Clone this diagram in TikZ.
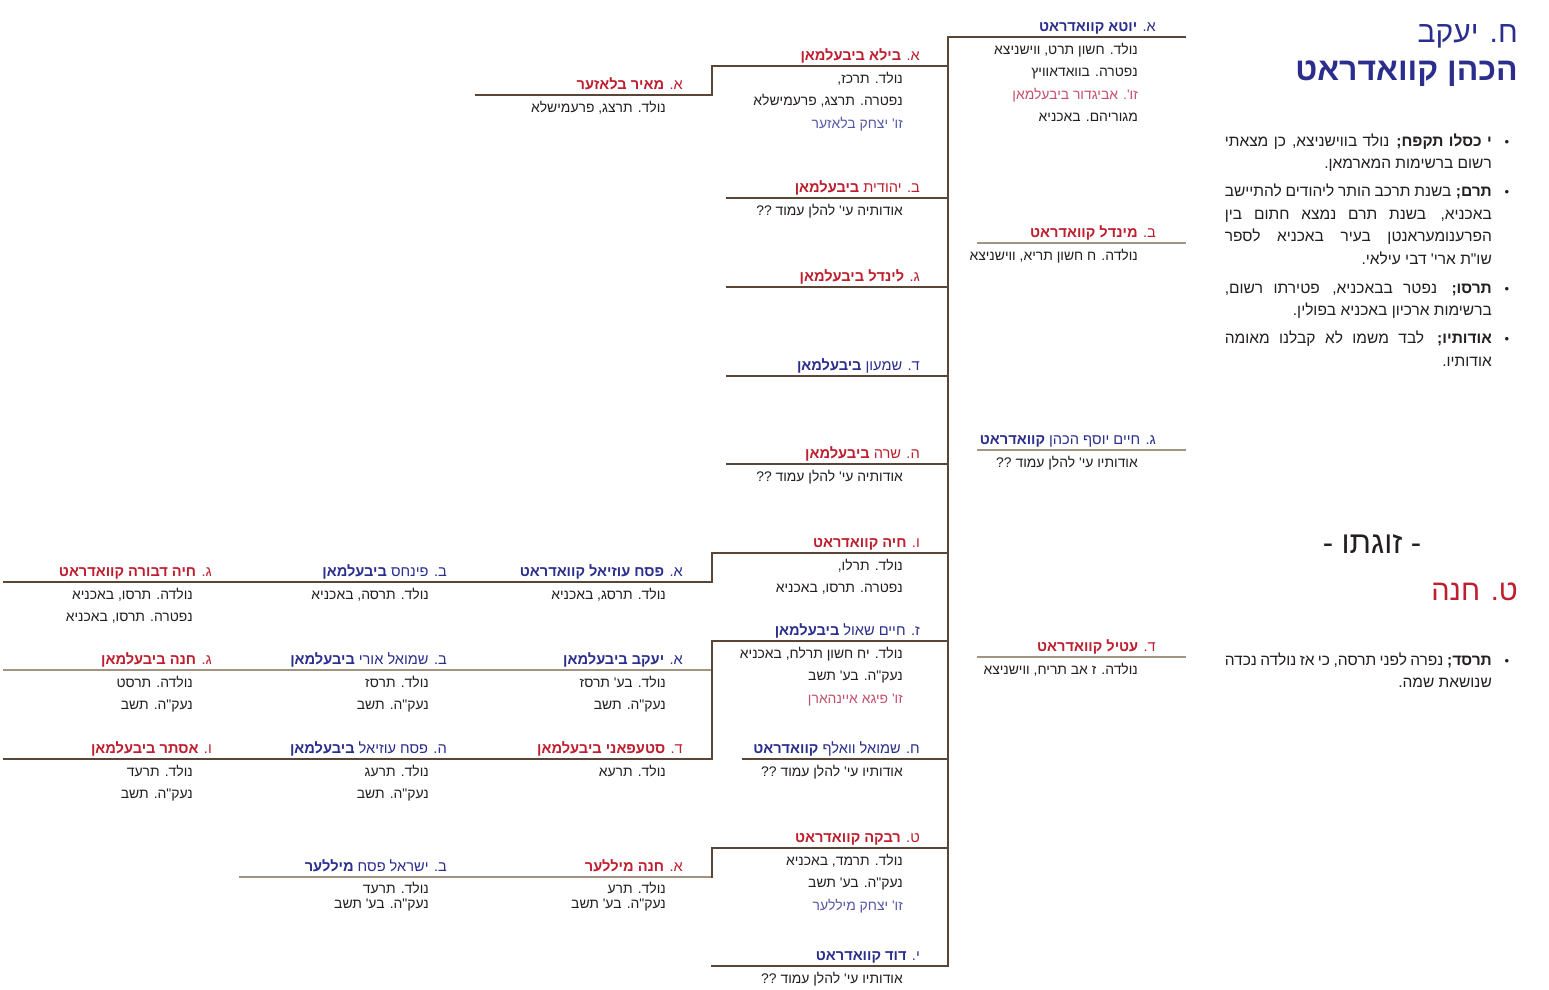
\documentclass[tikz,border=0pt]{standalone}
\usepackage{fontspec}
\TeXXeTstate=1
\newfontfamily\heb[Script=Hebrew]{Liberation Sans}
\definecolor{nblue}{HTML}{2B2E8C}
\definecolor{nred}{HTML}{BE1E2D}
\definecolor{spred}{HTML}{C4506A}
\definecolor{spblue}{HTML}{5659A6}
\definecolor{lnd}{HTML}{5A4636}
\definecolor{lnl}{HTML}{A39482}
\definecolor{txt}{HTML}{231F20}
\newcommand\jl[1]{\hbox to 267pt{\spaceskip=0.15em plus 1fil\relax#1}}
\newcommand\rl[1]{\hbox to 267pt{\hfil#1}}
\newcommand\hl[5][ln]{\coordinate (#2a) at (#3,#5); \coordinate (#2b) at (#4,#5); \draw[#1] (#2a) -- (#2b);}
\begin{document}
\begin{tikzpicture}[x=1pt,y=-1pt,
  nm/.style={anchor=base east,inner sep=0pt,font=\heb\fontsize{14.6}{17}\selectfont},
  blu/.style={nm,text=nblue},
  rd/.style={nm,text=nred},
  dt/.style={anchor=base east,inner sep=0pt,text=txt,font=\heb\fontsize{13.9}{16}\selectfont},
  dsr/.style={dt,text=spred},
  dsb/.style={dt,text=spblue},
  bt/.style={anchor=base east,inner sep=0pt,text=txt,font=\heb\fontsize{15.5}{19}\selectfont},
  bul/.style={anchor=base,inner sep=0pt,text=txt,font=\heb\fontsize{13}{16}\selectfont},
  ln/.style={draw=lnd,line width=1.1pt,line cap=rect},
  lnl/.style={draw=lnl,line width=1.1pt,line cap=rect}]
\useasboundingbox (0,0) rectangle (1549,989);
\fill[white] (0,0) rectangle (1549,989);

% ---------- lines ----------
\coordinate (spT) at (948,37);
\coordinate (spB) at (948,966);
\draw[ln] (spT) -- (spB);
\hl{h37}{948}{1185}{37}
\hl[lnl]{h243}{978}{1185}{243}
\hl[lnl]{h450}{978}{1185}{450}
\hl[lnl]{h657}{978}{1185}{657}
\hl{h66}{712}{948}{66}
\hl{h95}{476}{712}{95}
\draw[ln] (h66a) -- (h95b);
\hl{h198}{727}{948}{198}
\hl{h287}{727}{948}{287}
\hl{h376}{727}{948}{376}
\hl{h464}{727}{948}{464}
\hl{h553}{712}{948}{553}
\hl{h582}{4}{712}{582}
\draw[ln] (h553a) -- (h582b);
\hl{h641}{712}{948}{641}
\hl[lnl]{h670}{4}{712}{670}
\hl{h759l}{4}{712}{759}
\draw[ln] (h641a) -- (h759lb);
\hl{h759}{743}{948}{759}
\hl{h848}{712}{948}{848}
\hl[lnl]{h877}{240}{712}{877}
\draw[ln] (h848a) -- (h877b);
\hl{h966}{712}{948}{966}

% ---------- right column ----------
\node[blu] (r1) at (1156,31) {\beginR א. {\bfseries יוטא קוואדראט}\endR};
\node[dt] (r1a) at (1138,54) {\beginR נולד. חשון תרט, ווישניצא\endR};
\node[dt] (r1b) at (1138,76.5) {\beginR נפטרה. בוואדאוויץ\endR};
\node[dsr] (r1c) at (1138,99) {\beginR זו'. אביגדור ביבעלמאן\endR};
\node[dt] (r1d) at (1138,121.5) {\beginR מגוריהם. באכניא\endR};
\node[rd] (r2) at (1156,237) {\beginR ב. {\bfseries מינדל קוואדראט}\endR};
\node[dt] (r2a) at (1138,260) {\beginR נולדה. ח חשון תריא, ווישניצא\endR};
\node[blu] (r3) at (1156,444) {\beginR ג. חיים יוסף הכהן {\bfseries קוואדראט}\endR};
\node[dt] (r3a) at (1138,467) {\beginR אודותיו עי' להלן עמוד ??\endR};
\node[rd] (r4) at (1156,651) {\beginR ד. {\bfseries עטיל קוואדראט}\endR};
\node[dt] (r4a) at (1138,674) {\beginR נולדה. ז אב תריח, ווישניצא\endR};

% ---------- middle column ----------
\node[rd] (m1) at (920,60) {\beginR א. {\bfseries בילא ביבעלמאן}\endR};
\node[dt] (m1a) at (903,83) {\beginR נולד. תרכז,\endR};
\node[dt] (m1b) at (903,105.5) {\beginR נפטרה. תרצג, פרעמישלא\endR};
\node[dsb] (m1c) at (903,128) {\beginR זו' יצחק בלאזער\endR};
\node[rd] (m2) at (920,192) {\beginR ב. יהודית {\bfseries ביבעלמאן}\endR};
\node[dt] (m2a) at (903,215) {\beginR אודותיה עי' להלן עמוד ??\endR};
\node[rd] (m3) at (920,281) {\beginR ג. {\bfseries לינדל ביבעלמאן}\endR};
\node[blu] (m4) at (920,370) {\beginR ד. שמעון {\bfseries ביבעלמאן}\endR};
\node[rd] (m5) at (920,458) {\beginR ה. שרה {\bfseries ביבעלמאן}\endR};
\node[dt] (m5a) at (903,481) {\beginR אודותיה עי' להלן עמוד ??\endR};
\node[rd] (m6) at (920,547) {\beginR ו. {\bfseries חיה קוואדראט}\endR};
\node[dt] (m6a) at (903,570) {\beginR נולד. תרלו,\endR};
\node[dt] (m6b) at (903,592.5) {\beginR נפטרה. תרסו, באכניא\endR};
\node[blu] (m7) at (920,635) {\beginR ז. חיים שאול {\bfseries ביבעלמאן}\endR};
\node[dt] (m7a) at (903,658) {\beginR נולד. יח חשון תרלח, באכניא\endR};
\node[dt] (m7b) at (903,680.5) {\beginR נעק"ה. בע' תשב\endR};
\node[dsr] (m7c) at (903,703) {\beginR זו' פיגא איינהארן\endR};
\node[blu] (m8) at (920,753) {\beginR ח. שמואל וואלף {\bfseries קוואדראט}\endR};
\node[dt] (m8a) at (903,776) {\beginR אודותיו עי' להלן עמוד ??\endR};
\node[rd] (m9) at (920,842) {\beginR ט. {\bfseries רבקה קוואדראט}\endR};
\node[dt] (m9a) at (903,865) {\beginR נולד. תרמד, באכניא\endR};
\node[dt] (m9b) at (903,887.5) {\beginR נעק"ה. בע' תשב\endR};
\node[dsb] (m9c) at (903,910) {\beginR זו' יצחק מיללער\endR};
\node[blu] (m10) at (920,960) {\beginR י. {\bfseries דוד קוואדראט}\endR};
\node[dt] (m10a) at (903,983) {\beginR אודותיו עי' להלן עמוד ??\endR};

% ---------- left column 1 ----------
\node[rd] (a1) at (683,89) {\beginR א. {\bfseries מאיר בלאזער}\endR};
\node[dt] (a1a) at (666,112) {\beginR נולד. תרצג, פרעמישלא\endR};
\node[blu] (a2) at (683,576) {\beginR א. {\bfseries פסח עוזיאל קוואדראט}\endR};
\node[dt] (a2a) at (666,599) {\beginR נולד. תרסג, באכניא\endR};
\node[blu] (a3) at (683,664) {\beginR א. {\bfseries יעקב ביבעלמאן}\endR};
\node[dt] (a3a) at (666,687) {\beginR נולד. בע' תרסז\endR};
\node[dt] (a3b) at (666,709.5) {\beginR נעק"ה. תשב\endR};
\node[rd] (a4) at (683,753) {\beginR ד. {\bfseries סטעפאני ביבעלמאן}\endR};
\node[dt] (a4a) at (666,776) {\beginR נולד. תרעא\endR};
\node[rd] (a5) at (683,871) {\beginR א. {\bfseries חנה מיללער}\endR};
\node[dt] (a5a) at (666,893) {\beginR נולד. תרע\endR};
\node[dt] (a5b) at (666,908) {\beginR נעק"ה. בע' תשב\endR};

% ---------- left column 2 ----------
\node[blu] (b1) at (447,576) {\beginR ב. פינחס {\bfseries ביבעלמאן}\endR};
\node[dt] (b1a) at (429,599) {\beginR נולד. תרסה, באכניא\endR};
\node[blu] (b2) at (447,664) {\beginR ב. שמואל אורי {\bfseries ביבעלמאן}\endR};
\node[dt] (b2a) at (429,687) {\beginR נולד. תרסז\endR};
\node[dt] (b2b) at (429,709.5) {\beginR נעק"ה. תשב\endR};
\node[blu] (b3) at (447,753) {\beginR ה. פסח עוזיאל {\bfseries ביבעלמאן}\endR};
\node[dt] (b3a) at (429,776) {\beginR נולד. תרעג\endR};
\node[dt] (b3b) at (429,798.5) {\beginR נעק"ה. תשב\endR};
\node[blu] (b4) at (447,871) {\beginR ב. ישראל פסח {\bfseries מיללער}\endR};
\node[dt] (b4a) at (429,893) {\beginR נולד. תרעד\endR};
\node[dt] (b4b) at (429,908) {\beginR נעק"ה. בע' תשב\endR};

% ---------- left column 3 ----------
\node[rd] (c1) at (212,576) {\beginR ג. {\bfseries חיה דבורה קוואדראט}\endR};
\node[dt] (c1a) at (193,599) {\beginR נולדה. תרסו, באכניא\endR};
\node[dt] (c1b) at (193,621.5) {\beginR נפטרה. תרסו, באכניא\endR};
\node[rd] (c2) at (212,664) {\beginR ג. {\bfseries חנה ביבעלמאן}\endR};
\node[dt] (c2a) at (193,687) {\beginR נולדה. תרסט\endR};
\node[dt] (c2b) at (193,709.5) {\beginR נעק"ה. תשב\endR};
\node[rd] (c3) at (212,753) {\beginR ו. {\bfseries אסתר ביבעלמאן}\endR};
\node[dt] (c3a) at (193,776) {\beginR נולד. תרעד\endR};
\node[dt] (c3b) at (193,798.5) {\beginR נעק"ה. תשב\endR};

% ---------- right panel ----------
\node[anchor=base east,inner sep=0pt,text=nblue,font=\heb\fontsize{30}{36}\selectfont] (t1) at (1518,42) {\beginR ח. יעקב\endR};
\node[anchor=base east,inner sep=0pt,text=nblue,font=\heb\bfseries\fontsize{32}{38}\selectfont] (t2) at (1518,80) {\beginR הכהן קוואדראט\endR};

\node[bul] (p1) at (1507,146) {•};
\node[bt] (p1a) at (1492,146) {\jl{\beginR{\bfseries י כסלו תקפח;} נולד בווישניצא, כן מצאתי\endR}};
\node[bt] (p1b) at (1492,168.7) {\rl{\beginR רשום ברשימות המארמאן.\endR}};
\node[bul] (p2) at (1507,196.5) {•};
\node[bt] (p2a) at (1492,196.5) {\jl{\beginR{\bfseries תרם;} בשנת תרכב הותר ליהודים להתיישב\endR}};
\node[bt] (p2b) at (1492,219.2) {\jl{\beginR באכניא, בשנת תרם נמצא חתום בין\endR}};
\node[bt] (p2c) at (1492,241.9) {\jl{\beginR הפרענומעראנטן בעיר באכניא לספר\endR}};
\node[bt] (p2d) at (1492,264.6) {\rl{\beginR שו"ת ארי' דבי עילאי.\endR}};
\node[bul] (p3) at (1507,293) {•};
\node[bt] (p3a) at (1492,293) {\jl{\beginR{\bfseries תרסו;} נפטר בבאכניא, פטירתו רשום,\endR}};
\node[bt] (p3b) at (1492,315.7) {\rl{\beginR ברשימות ארכיון באכניא בפולין.\endR}};
\node[bul] (p4) at (1507,343.5) {•};
\node[bt] (p4a) at (1492,343.5) {\jl{\beginR{\bfseries אודותיו;} לבד משמו לא קבלנו מאומה\endR}};
\node[bt] (p4b) at (1492,366.2) {\rl{\beginR אודותיו.\endR}};

\node[anchor=base,inner sep=0pt,text=txt,font=\heb\fontsize{31}{36}\selectfont] (zg) at (1372,553) {\beginR - זוגתו -\endR};
\node[anchor=base east,inner sep=0pt,text=nred,font=\heb\fontsize{29}{35}\selectfont] (t3) at (1518,600) {\beginR ט. חנה\endR};
\node[bul] (q1) at (1507,665) {•};
\node[bt] (q1a) at (1492,665) {\jl{\beginR{\bfseries תרסד;} נפרה לפני תרסה, כי אז נולדה נכדה\endR}};
\node[bt] (q1b) at (1492,687.5) {\rl{\beginR שנושאת שמה.\endR}};
\end{tikzpicture}
\end{document}
